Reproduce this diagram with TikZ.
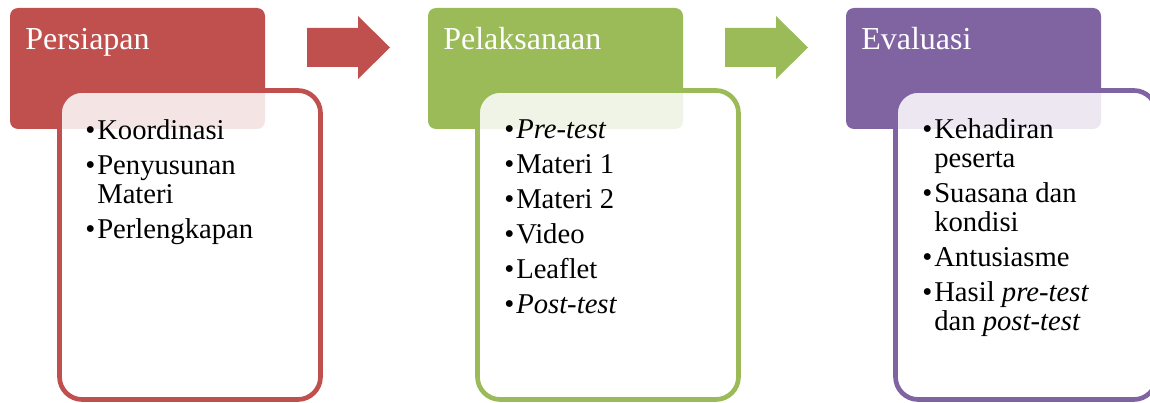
\documentclass[tikz,border=0pt]{standalone}
\usepackage{fontspec}
\setmainfont{Liberation Serif}
\usetikzlibrary{positioning}
\definecolor{stepred}{HTML}{C0504D}
\definecolor{stepgreen}{HTML}{9BBB59}
\definecolor{steppurple}{HTML}{8064A2}
\newcommand{\itm}[1]{\makebox[9pt][l]{\textbullet}#1}
\newcommand{\contd}[1]{\hspace*{9pt}#1}

\begin{document}
\begin{tikzpicture}[
    x=0.75pt,y=-0.75pt,
    head/.style={rectangle,rounded corners=6pt,minimum width=191.25pt,minimum height=90.75pt,inner sep=0pt},
    headtxt/.style={anchor=base west,inner sep=0pt,text=white,font=\fontsize{24}{28}\selectfont},
    body/.style={rectangle,rounded corners=17pt,line width=3.5pt,fill=white,fill opacity=0.85,draw opacity=1,minimum width=195.75pt,minimum height=231.75pt,inner sep=0pt},
    bodytxt/.style={anchor=base west,inner sep=0pt,font=\fontsize{21.5}{22}\selectfont}
    ]
    \useasboundingbox (0,0) rectangle (1150,403);
    \clip (0,0) rectangle (1150,403);
    % headers
    \node[head,fill=stepred] (h1) at (137.5,68.5) {};
    \node[head,fill=stepgreen] (h2) at (555.5,68.5) {};
    \node[head,fill=steppurple] (h3) at (973.5,68.5) {};
    \node[headtxt] (t1) at (25,50) {Persiapan};
    \node[headtxt] (t2) at (443,50) {Pelaksanaan};
    \node[headtxt] (t3) at (861,50) {Evaluasi};
    % bodies
    \node[body,draw=stepred] (b1) at (190,245) {};
    \node[body,draw=stepgreen] (b2) at (608,245) {};
    \node[body,draw=steppurple] (b3) at (1026,245) {};
    \node[bodytxt] (l1) at (85,139) {\begin{tabular}[t]{@{}l@{}}
        \itm{Koordinasi}\\[4.25pt]
        \itm{Penyusunan}\\
        \contd{Materi}\\[4.25pt]
        \itm{Perlengkapan}
      \end{tabular}};
    \node[bodytxt] (l2) at (504,138) {\begin{tabular}[t]{@{}l@{}}
        \itm{\textit{Pre-test}}\\[4.25pt]
        \itm{Materi 1}\\[4.25pt]
        \itm{Materi 2}\\[4.25pt]
        \itm{Video}\\[4.25pt]
        \itm{Leaflet}\\[4.25pt]
        \itm{\textit{Post-test}}
      \end{tabular}};
    \node[bodytxt] (l3) at (922,138) {\begin{tabular}[t]{@{}l@{}}
        \itm{Kehadiran}\\
        \contd{peserta}\\[4.25pt]
        \itm{Suasana dan}\\
        \contd{kondisi}\\[4.25pt]
        \itm{Antusiasme}\\[4.25pt]
        \itm{Hasil \textit{pre-test}}\\
        \contd{dan \textit{post-test}}
      \end{tabular}};
    % arrows between stages
    \fill[stepred] (307,28) -- (358,28) -- (358,16) -- (390,47.5) -- (358,79) -- (358,67) -- (307,67) -- cycle;
    \fill[stepgreen] (725,28) -- (776,28) -- (776,16) -- (808,47.5) -- (776,79) -- (776,67) -- (725,67) -- cycle;
\end{tikzpicture}
\end{document}
